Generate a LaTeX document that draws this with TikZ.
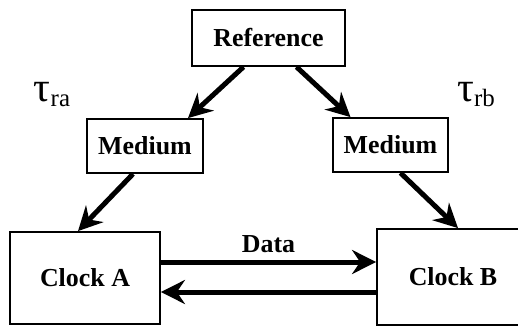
\documentclass[tikz,border=0pt]{standalone}
\usepackage{fontspec}
\setmainfont{Liberation Serif}
\usepackage{tikz}
\usetikzlibrary{arrows.meta, positioning}

\begin{document}
\begin{tikzpicture}[x=1bp, y=1bp, >={Stealth[length=24bp, width=24bp, inset=8bp]},
    box/.style={draw, line width=1.8bp, font=\bfseries\fontsize{26}{28}\selectfont, inner sep=0pt},
    link/.style={->, line width=5bp}]
            \useasboundingbox (0,0) rectangle (518,326);
            \node[box, minimum width=153bp, minimum height=56bp] (Ref) at (268.5,288) {Reference};
            \node[box, minimum width=116bp, minimum height=54bp] (MedA) at (145,180) {Medium};
            \node[box, minimum width=115bp, minimum height=54bp] (MedB) at (390.5,181) {Medium};
            \node[box, minimum width=150bp, minimum height=92bp] (ClkA) at (85,48) {Clock A};
            \node[box, minimum width=152bp, minimum height=96bp] (ClkB) at (453,49) {Clock B};
            
            \node (TauA) at (52,231) {\fontsize{42}{44}\selectfont τ\raisebox{-5bp}{\fontsize{25}{26}\selectfont ra}};
            \node (TauB) at (476,231) {\fontsize{42}{44}\selectfont τ\raisebox{-5bp}{\fontsize{25}{26}\selectfont rb}};
            
            \path[link]
            ([xshift=-25bp]Ref.south) edge ([xshift=43bp]MedA.north)
            ([xshift=28bp]Ref.south) edge ([xshift=-40bp]MedB.north)
            ([xshift=-12bp]MedA.south) edge ([xshift=-7bp]ClkA.north)
            ([xshift=10bp]MedB.south) edge ([xshift=5bp]ClkB.north);
            
            % two way data link between the clocks
            \draw[link] ([yshift=16bp]ClkA.east) -- node[above=3bp, font=\bfseries\fontsize{26}{28}\selectfont] {Data} ([yshift=16bp]ClkA.east -| ClkB.west);
            \draw[link] ([yshift=-14bp]ClkA.east -| ClkB.west) -- ([yshift=-14bp]ClkA.east);
        \end{tikzpicture}
\end{document}
